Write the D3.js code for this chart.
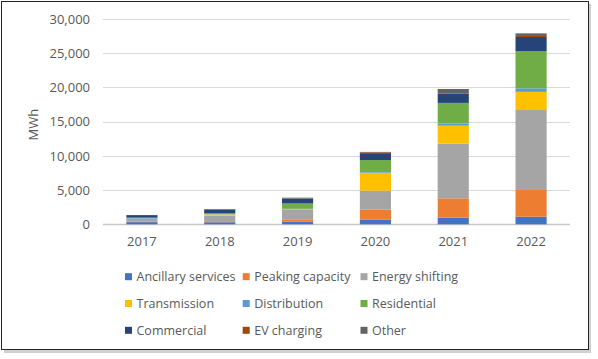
<!DOCTYPE html>
<html>
<head>
<meta charset="utf-8">
<script src="https://cdn.jsdelivr.net/npm/d3@7"></script>
<style>
  html, body { margin: 0; padding: 0; background: #fff; }
  svg { display: block; }
  text { font-family: "Open Sans", "Noto Sans", sans-serif; }
</style>
</head>
<body>
<svg id="chart" width="598" height="359"></svg>
<script>
const years = ["2017", "2018", "2019", "2020", "2021", "2022"];
const seriesNames = ["Ancillary services", "Peaking capacity", "Energy shifting",
  "Transmission", "Distribution", "Residential", "Commercial", "EV charging", "Other"];
const seriesColors = ["#4472C4", "#ED7D31", "#A5A5A5", "#FFC000", "#5B9BD5",
  "#70AD47", "#264478", "#9E480E", "#636363"];
const ancillary    = [320, 300, 380, 700, 960, 1110];
const peaking      = [100, 150, 350, 1430, 2840, 3900];
const energyShift  = [420, 820, 1420, 2780, 7980, 11690];
const transmission = [0, 150, 40, 2630, 2630, 2650];
const distribution = [110, 40, 70, 250, 330, 520];
const residential  = [20, 150, 780, 1600, 3000, 5450];
const commercial   = [370, 520, 720, 880, 1370, 2050];
const evCharging   = [10, 90, 30, 250, 60, 150];
const other        = [10, 20, 100, 60, 600, 380];
const yTicks = [0, 5000, 10000, 15000, 20000, 25000, 30000];
const yLabel = "MWh";

const seriesValues = [ancillary, peaking, energyShift, transmission, distribution,
  residential, commercial, evCharging, other];

const rows = years.map((y, i) => {
  const r = { year: y };
  seriesNames.forEach((s, k) => r[s] = seriesValues[k][i]);
  return r;
});

const svg = d3.select("#chart");

// frame with shadow
svg.append("rect").attr("x", 4).attr("y", 4).attr("width", 587).attr("height", 349)
  .attr("fill", "#d0d0d0");
svg.append("rect").attr("x", 1.5).attr("y", 1.5).attr("width", 587).attr("height", 348)
  .attr("fill", "#fff").attr("stroke", "#262626").attr("stroke-width", 1);

const plot = { left: 103, right: 570, top: 19, bottom: 224.3 };

const x = d3.scaleBand().domain(years).range([plot.left, plot.right])
  .paddingInner(0.6).paddingOuter(0.3);
const y = d3.scaleLinear().domain([0, 30000]).range([plot.bottom, plot.top]);

// gridlines
const grid = svg.append("g").attr("class", "grid");
grid.selectAll("line").data(yTicks).join("line")
  .attr("x1", plot.left).attr("x2", plot.right)
  .attr("y1", d => Math.round(y(d)) + 0.5).attr("y2", d => Math.round(y(d)) + 0.5)
  .attr("stroke", d => d === 0 ? "#c8c8c8" : "#d9d9d9")
  .attr("stroke-width", d => d === 0 ? 1.5 : 1);

// y axis labels
const yAxis = d3.axisLeft(y).tickValues(yTicks).tickFormat(d3.format(",")).tickSize(0).tickPadding(13);
const yg = svg.append("g").attr("transform", `translate(${plot.left},0)`).call(yAxis);
yg.select(".domain").remove();
yg.selectAll("text").attr("fill", "#595959").style("font-size", "13px")
  .style("font-family", "'Open Sans', sans-serif");

// x axis labels
const xAxis = d3.axisBottom(x).tickSize(0).tickPadding(12);
const xg = svg.append("g").attr("transform", `translate(0,${plot.bottom})`).call(xAxis);
xg.select(".domain").remove();
xg.selectAll("text").attr("fill", "#595959").style("font-size", "13px")
  .style("font-family", "'Open Sans', sans-serif");

// y label
svg.append("text").attr("transform", `translate(38,${(plot.top + plot.bottom) / 2 + 3}) rotate(-90)`)
  .attr("text-anchor", "middle").attr("fill", "#595959").style("font-size", "13px")
  .text(yLabel);

// stacked bars
const stack = d3.stack().keys(seriesNames);
const stacked = stack(rows);
const color = d3.scaleOrdinal().domain(seriesNames).range(seriesColors);

svg.append("g").selectAll("g").data(stacked).join("g")
  .attr("fill", d => color(d.key))
  .selectAll("rect").data(d => d).join("rect")
  .attr("x", d => x(d.data.year))
  .attr("width", x.bandwidth())
  .attr("y", d => y(d[1]))
  .attr("height", d => Math.max(0, y(d[0]) - y(d[1])));

// legend
const legCols = [125, 242.7, 360.5];
const legRows = [276.7, 303.5, 330.3];
const leg = svg.append("g");
seriesNames.forEach((s, i) => {
  const cx = legCols[i % 3], cy = legRows[Math.floor(i / 3)];
  leg.append("rect").attr("x", cx).attr("y", cy - 3.5).attr("width", 7).attr("height", 7)
    .attr("fill", color(s));
  leg.append("text").attr("x", cx + 11.5).attr("y", cy).attr("dy", "0.35em")
    .attr("fill", "#595959").style("font-size", "12.5px").text(s);
});
</script>
</body>
</html>
